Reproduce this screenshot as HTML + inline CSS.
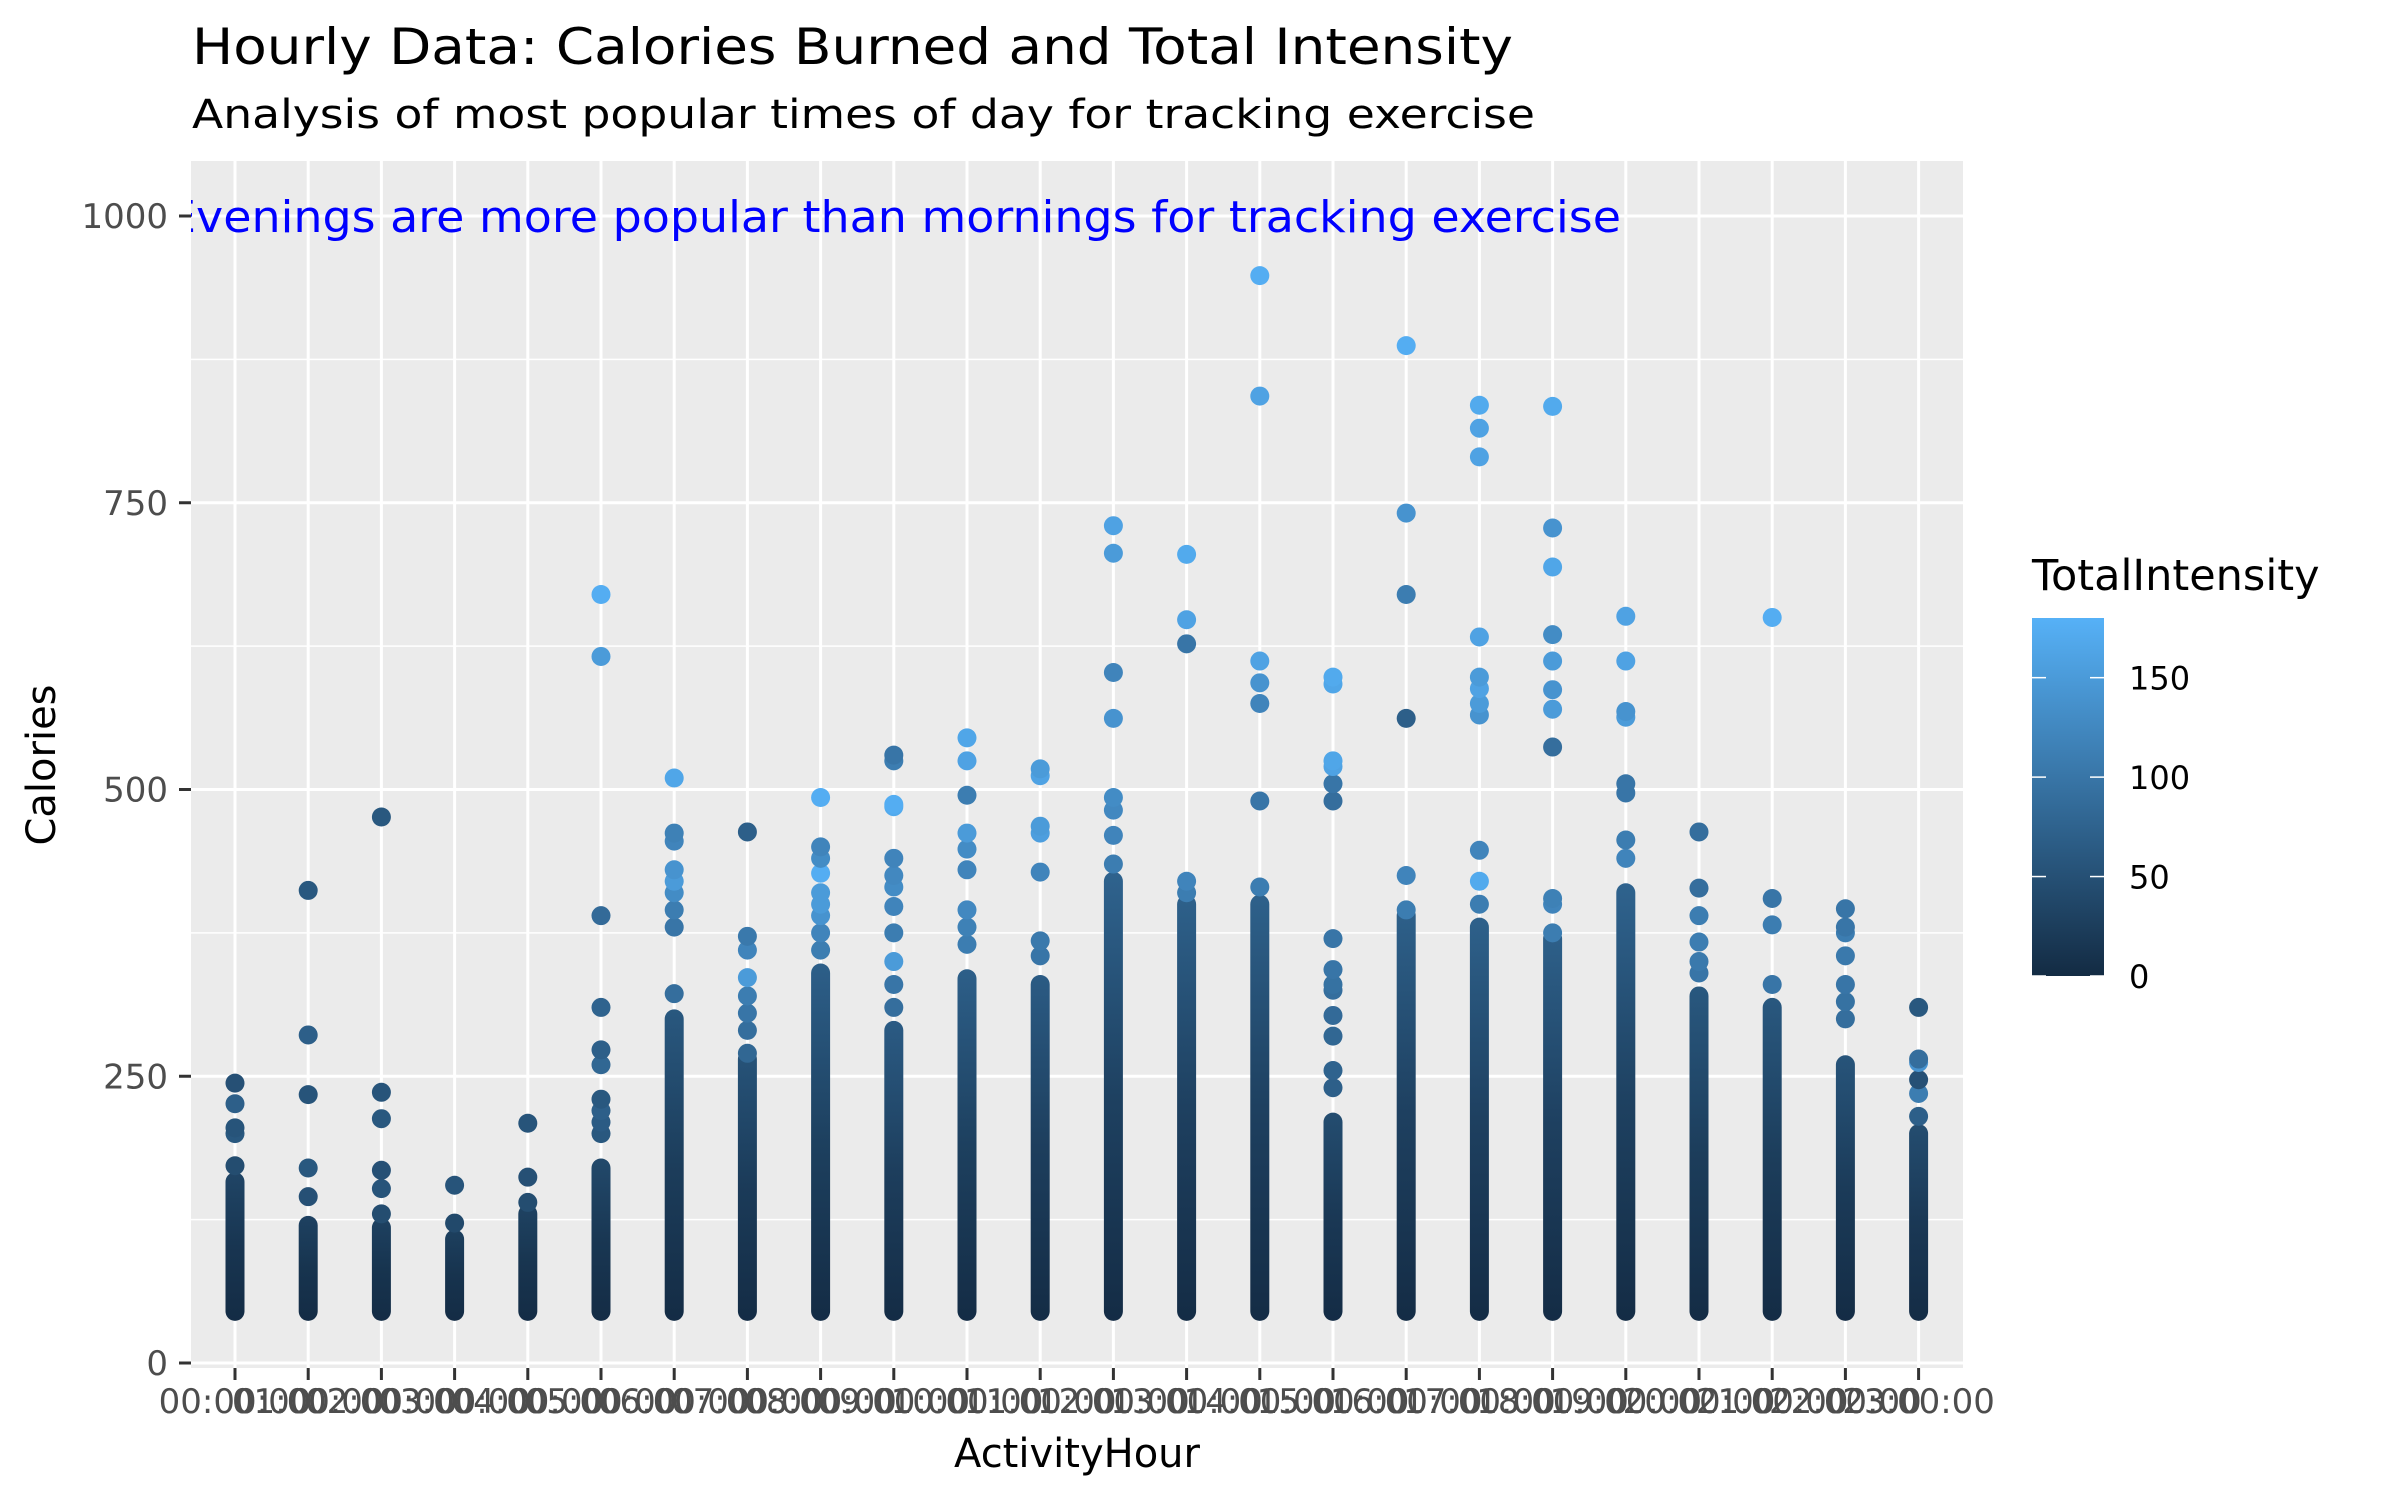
<!DOCTYPE html>
<html><head><meta charset="utf-8"><style>
html,body{margin:0;padding:0;background:#fff;}
svg{display:block;font-family:"DejaVu Sans","Liberation Sans",sans-serif;}
</style></head><body>
<svg id="chart" width="2384" height="1499" viewBox="0 0 2384 1499" xmlns="http://www.w3.org/2000/svg">
<defs>
<clipPath id="panelClip"><rect x="191" y="161" width="1772" height="1207"/></clipPath>
<linearGradient id="legendGrad" x1="0" y1="1" x2="0" y2="0">
<stop offset="0" stop-color="#132B43"/><stop offset="1" stop-color="#56B1F7"/>
</linearGradient>
</defs>
<text x="192" y="64" font-size="50" fill="#000" textLength="1321" lengthAdjust="spacingAndGlyphs">Hourly Data: Calories Burned and Total Intensity</text>
<text x="192" y="128" font-size="40" fill="#000" textLength="1343" lengthAdjust="spacingAndGlyphs">Analysis of most popular times of day for tracking exercise</text>
<rect x="191" y="161" width="1772" height="1207" fill="#EBEBEB"/>
<g id="grid"></g>
<g id="marks" clip-path="url(#panelClip)"></g>
<g clip-path="url(#panelClip)">
<text x="167" y="232" font-size="44" fill="#0000FF" textLength="1454" lengthAdjust="spacingAndGlyphs">Evenings are more popular than mornings for tracking exercise</text>
</g>
<g id="axes"></g>
<text x="1077" y="1467" font-size="40" text-anchor="middle" fill="#000">ActivityHour</text>
<text x="55" y="765" font-size="40" text-anchor="middle" fill="#000" transform="rotate(-90 55 765)">Calories</text>
<g id="legend">
<text x="2032" y="590" font-size="43" fill="#000">TotalIntensity</text>
<rect x="2032" y="618" width="72" height="358" fill="url(#legendGrad)"/>
</g>
</svg>
<script>
const hourLabels = ["00:00:00","01:00:00","02:00:00","03:00:00","04:00:00","05:00:00","06:00:00","07:00:00","08:00:00","09:00:00","10:00:00","11:00:00","12:00:00","13:00:00","14:00:00","15:00:00","16:00:00","17:00:00","18:00:00","19:00:00","20:00:00","21:00:00","22:00:00","23:00:00"];
const yTicks = [0,250,500,750,1000];
const yMinor = [125,375,625,875];
const legendTicks = [0,50,100,150];
const denseMin = [45,45,45,45,45,45,45,45,45,45,45,45,45,45,45,45,45,45,45,45,45,45,45,45];
const denseMax = [158,120,118,108,130,170,300,265,340,290,335,330,420,400,400,210,390,380,370,410,320,310,260,200];
const denseTopIntensity = [35,30,30,28,32,40,60,55,70,65,70,65,75,72,72,45,72,72,72,75,60,60,55,45];
const outlierCal = [
[172,200,205,226,244],
[145,170,234,286,412],
[130,152,168,213,236,476],
[122,155],
[140,162,209],
[200,210,220,230,260,273,310,390,616,670],
[322,380,395,410,420,430,455,462,510],
[270,290,305,320,336,360,372,463],
[360,375,390,400,410,427,440,450,493],
[310,330,350,375,398,415,425,440,485,487,525,530],
[365,380,395,430,448,462,495,525,545],
[355,368,428,462,468,512,518],
[435,460,482,493,562,602,706,730],
[410,420,627,648,705],
[415,490,575,593,612,843,948],
[240,255,285,303,325,330,343,370,490,505,520,525,592,598],
[395,425,562,670,741,887],
[400,420,447,565,575,588,598,633,790,815,835],
[375,400,405,537,570,587,612,635,694,728,834],
[440,456,497,505,563,568,612,651],
[340,350,367,390,414,463],
[330,382,405,650],
[300,315,330,355,375,380,396],
[215,235,247,262,265,310]];
const outlierIntensity = [
[45,60,55,70,50],
[50,60,55,70,60],
[45,55,50,60,55,60],
[40,55],
[45,50,55],
[60,65,70,60,80,70,75,85,150,175],
[90,100,110,130,150,140,120,115,165],
[80,90,100,110,150,120,105,70],
[110,120,140,150,150,175,130,120,175],
[90,100,150,110,120,130,125,120,170,175,110,100],
[110,115,125,120,130,150,110,160,165],
[100,105,120,155,150,160,150],
[110,120,125,130,140,120,150,160],
[110,120,100,160,170],
[110,100,120,140,160,160,175],
[70,75,80,85,90,95,100,100,90,100,160,165,165,170],
[110,120,70,110,140,175],
[110,170,120,140,150,160,150,160,160,160,170],
[110,120,115,90,150,140,150,130,165,140,170],
[120,110,100,100,150,140,160,160],
[100,105,110,110,90,90],
[100,110,100,175],
[90,95,100,105,110,100,100],
[70,110,50,140,90,60]];

const X0 = 235, DX = 73.2;
const Y0 = 1363, YK = 1.147;
const IMAX = 180;
function xPos(i){ return X0 + i*DX; }
function yPos(v){ return Y0 - v*YK; }
function legendY(v){ return 976 - v*(358/IMAX); }
const c0=[0x13,0x2B,0x43], c1=[0x56,0xB1,0xF7];
function color(t){
  const f=Math.max(0,Math.min(1,t/IMAX));
  const c=c0.map((a,k)=>Math.round(a+(c1[k]-a)*f));
  return 'rgb('+c.join(',')+')';
}
const NS='http://www.w3.org/2000/svg';
function mk(tag,attrs,parent){
  const e=document.createElementNS(NS,tag);
  for(const k in attrs) e.setAttribute(k,attrs[k]);
  parent.appendChild(e); return e;
}
const grid=document.getElementById('grid');
yMinor.forEach(v=>{
  const l=mk('line',{x1:191,x2:1963,y1:yPos(v),y2:yPos(v),stroke:'#fff','stroke-width':1.6},grid);
  
  
});
yTicks.forEach(v=>{
  const l=mk('line',{x1:191,x2:1963,y1:yPos(v),y2:yPos(v),stroke:'#fff','stroke-width':3},grid);
  
  
});
hourLabels.forEach((h,i)=>{
  const l=mk('line',{x1:xPos(i),x2:xPos(i),y1:161,y2:1368,stroke:'#fff','stroke-width':3},grid);
  
  
});
const marks=document.getElementById('marks');
const defs=document.querySelector('defs');
hourLabels.forEach((h,i)=>{
  const g=mk('linearGradient',{id:'cg'+i,x1:0,y1:1,x2:0,y2:0},defs);
  mk('stop',{offset:0,'stop-color':color(2)},g);
  mk('stop',{offset:0.5,'stop-color':color(denseTopIntensity[i]*0.4)},g);
  mk('stop',{offset:1,'stop-color':color(denseTopIntensity[i])},g);
  const top=yPos(denseMax[i])-9.5, bot=yPos(denseMin[i])+9.5;
  const r=mk('rect',{x:xPos(i)-9.5,y:top,width:19,height:bot-top,rx:9.5,fill:'url(#cg'+i+')'},marks);
  
  
  outlierCal[i].forEach((v,j)=>{
    const c=mk('circle',{cx:xPos(i),cy:yPos(v),r:9.5,fill:color(outlierIntensity[i][j])},marks);
    
    
  });
});
const axes=document.getElementById('axes');
yTicks.forEach(v=>{
  const t=mk('line',{x1:179,x2:191,y1:yPos(v),y2:yPos(v),stroke:'#333','stroke-width':3},axes);
  
  
  const tx=mk('text',{x:168,y:yPos(v)+12,'font-size':34,'text-anchor':'end',fill:'#4D4D4D'},axes);
  tx.textContent=v;
  
  
});
hourLabels.forEach((h,i)=>{
  const t=mk('line',{x1:xPos(i),x2:xPos(i),y1:1368,y2:1380,stroke:'#333','stroke-width':3},axes);
  
  
  const tx=mk('text',{x:xPos(i),y:1413,'font-size':34,'text-anchor':'middle',fill:'#4D4D4D'},axes);
  tx.textContent=h;
  
  
});
const legend=document.getElementById('legend');
legendTicks.forEach(v=>{
  const a=mk('line',{x1:2032,x2:2046,y1:legendY(v),y2:legendY(v),stroke:'#fff','stroke-width':1.5},legend);
  
  
  const b=mk('line',{x1:2090,x2:2104,y1:legendY(v),y2:legendY(v),stroke:'#fff','stroke-width':1.5},legend);
  
  
  const tx=mk('text',{x:2129,y:legendY(v)+12,'font-size':32,fill:'#000'},legend);
  tx.textContent=v;
  
  
});
</script>
</body></html>
